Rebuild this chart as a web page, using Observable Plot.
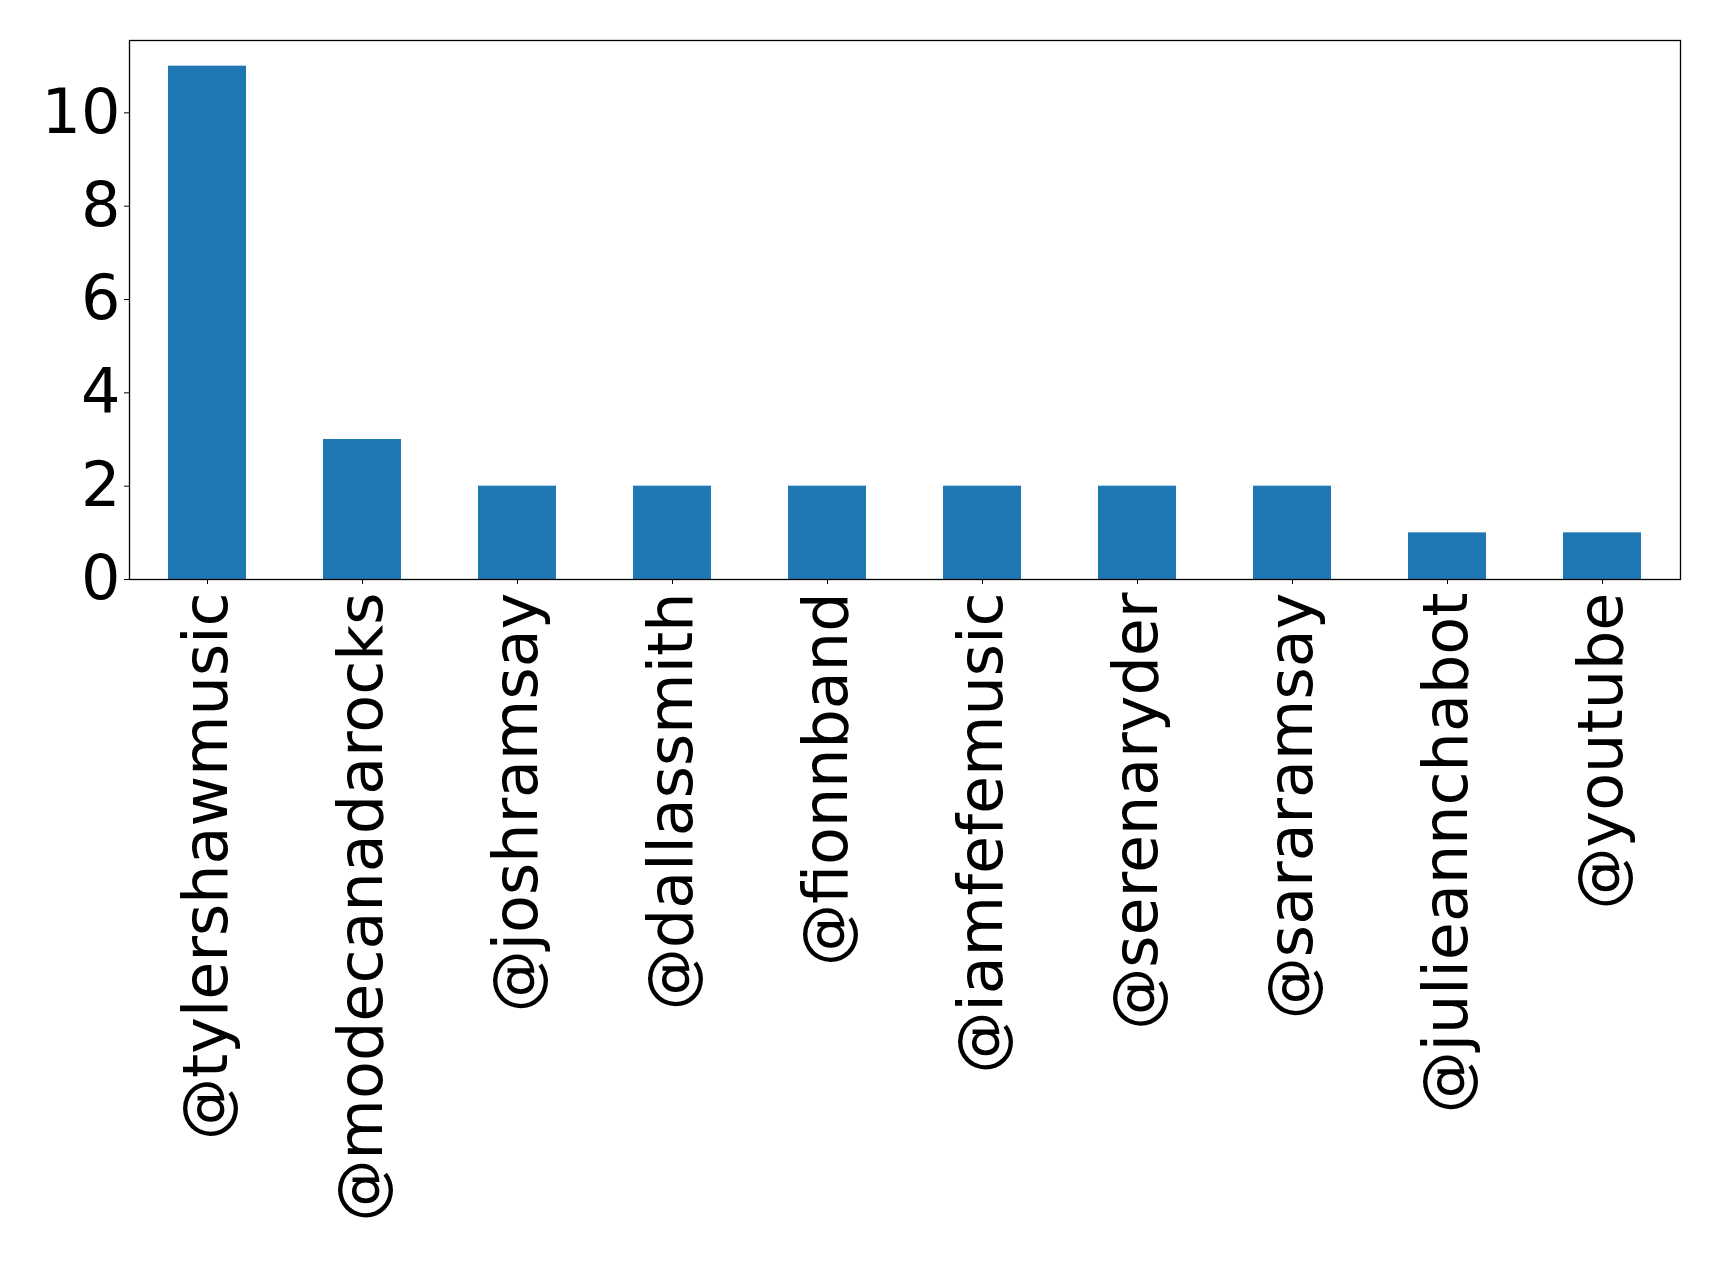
<!DOCTYPE html>
<html>
<head>
<meta charset="utf-8">
<script src="https://cdn.jsdelivr.net/npm/d3@7"></script>
<script src="https://cdn.jsdelivr.net/npm/@observablehq/plot@0.6"></script>
<style>
  body { margin: 0; background: #fff; }
  #chart svg { display: block; }
</style>
</head>
<body>
<div id="chart"></div>
<script>
// Most-mentioned accounts and how often each was mentioned
const handles = [
  "@tylershawmusic", "@modecanadarocks", "@joshramsay", "@dallassmith", "@fionnband",
  "@iamfefemusic", "@serenaryder", "@sararamsay", "@julieannchabot", "@youtube"
];
const mentions = [11, 3, 2, 2, 2, 2, 2, 2, 1, 1];
const yTicks = [0, 2, 4, 6, 8, 10];

const rows = handles.map((handle, i) => ({handle, count: mentions[i]}));

const chart = Plot.plot({
  width: 1719,
  height: 1262,
  marginLeft: 129,
  marginRight: 39,
  marginTop: 40,
  marginBottom: 683,
  style: {fontFamily: "'DejaVu Sans', sans-serif", fontSize: "62px", background: "#fff", color: "#000"},
  x: {domain: handles, paddingInner: 0.5, paddingOuter: 0.25},
  y: {domain: [0, 11.55]},
  marks: [
    Plot.barY(rows, {x: "handle", y: "count", fill: "#1f77b4"}),
    Plot.frame({stroke: "#000", strokeWidth: 1.3}),
    Plot.axisY({ticks: yTicks, tickSize: 5, tickPadding: 4, label: null, fontSize: 62}),
    Plot.axisX({tickRotate: -90, tickSize: 5, tickPadding: 8, label: null, fontSize: 62})
  ]
});

document.getElementById("chart").appendChild(chart);
</script>
</body>
</html>
